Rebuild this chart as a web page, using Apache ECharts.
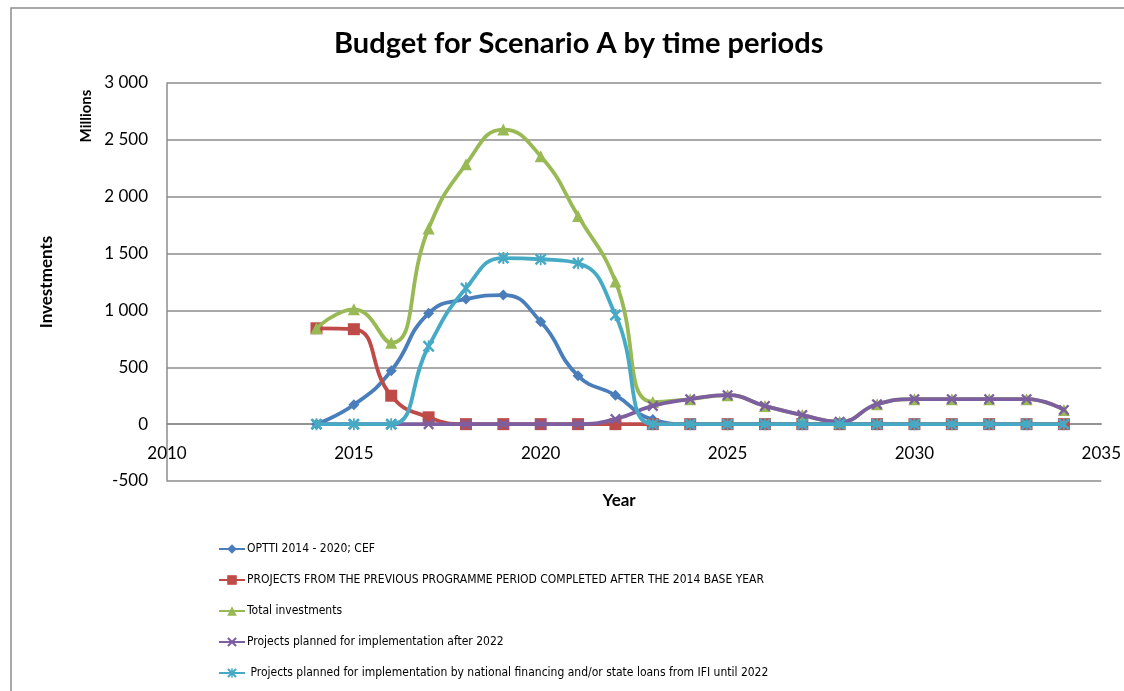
<!DOCTYPE html>
<html>
<head>
<meta charset="utf-8">
<script src="https://cdn.jsdelivr.net/npm/echarts@6/dist/echarts.min.js"></script>
<style>
  html, body { margin: 0; padding: 0; background: #fff; }
  #container { width: 1124px; height: 691px; }
</style>
</head>
<body>
<div id="container"></div>
<script>
// years on the x axis
var years = [2014, 2015, 2016, 2017, 2018, 2019, 2020, 2021, 2022, 2023, 2024,
             2025, 2026, 2027, 2028, 2029, 2030, 2031, 2032, 2033, 2034];

// values in millions
var optti    = [0, 170, 470, 975, 1100, 1135, 900, 425, 255, 40, 0, 0, 0, 0, 0, 0, 0, 0, 0, 0, 0];
var previous = [843, 835, 250, 60, 0, 0, 0, 0, 0, 0, 0, 0, 0, 0, 0, 0, 0, 0, 0, 0, 0];
var total    = [843, 1010, 715, 1720, 2285, 2590, 2355, 1830, 1255, 195, 220, 255, 160, 80, 20, 175, 220, 220, 220, 220, 125];
var after22  = [0, 0, 0, 0, 0, 0, 0, 0, 45, 160, 220, 255, 160, 80, 20, 175, 220, 220, 220, 220, 125];
var national = [0, 0, 0, 685, 1195, 1460, 1450, 1415, 960, 0, 0, 0, 0, 0, 0, 0, 0, 0, 0, 0, 0];

var names = [
    'OPTTI 2014 - 2020; CEF',
    'PROJECTS FROM THE PREVIOUS PROGRAMME PERIOD COMPLETED AFTER THE 2014 BASE YEAR',
    'Total investments',
    'Projects planned for implementation after 2022',
    ' Projects planned for implementation by national financing and/or state loans from IFI until 2022'
];
var colors = ['#4A7EBB', '#BE4B48', '#98B954', '#7D5FA0', '#46AAC5'];

var xMark = 'path://M0,3 L3,0 L10,7 L17,0 L20,3 L13,10 L20,17 L17,20 L10,13 L3,20 L0,17 L7,10 Z';
var starMark = 'path://M0,3 L3,0 L10,7 L17,0 L20,3 L13,10 L20,17 L17,20 L10,13 L3,20 L0,17 L7,10 Z M8.5,0 L11.5,0 L11.5,20 L8.5,20 Z';
var symbols = ['diamond', 'rect', 'triangle', xMark, starMark];
var sizes = [11, 12, 12, 11, 12];

function pairs(vals) {
    var out = [];
    for (var i = 0; i < years.length; i++) out.push([years[i], vals[i]]);
    return out;
}

var allData = [optti, previous, total, after22, national];
var series = [];
for (var s = 0; s < allData.length; s++) {
    series.push({
        name: names[s],
        type: 'line',
        smooth: 0.5,
        data: pairs(allData[s]),
        symbol: symbols[s],
        symbolSize: sizes[s],
        lineStyle: { color: colors[s], width: 3.8 },
        itemStyle: { color: colors[s] },
        z: 2 + s
    });
}

function fmt(v) {
    var a = Math.abs(v).toString().replace(/\B(?=(\d{3})+(?!\d))/g, ' ');
    return (v < 0 ? '-' : '') + a;
}

var chart = echarts.init(document.getElementById('container'));
chart.setOption({
    backgroundColor: '#fff',
    animation: false,
    textStyle: { fontFamily: 'Lato, "Open Sans", sans-serif', color: '#000' },
    title: {
        text: 'Budget for Scenario A by time periods',
        left: 329,
        top: 24,
        textStyle: { fontSize: 29, fontWeight: 'bold', color: '#000', fontFamily: 'Lato, sans-serif' }
    },
    grid: { left: 167, top: 83, right: 20, bottom: 210 },
    xAxis: {
        type: 'value',
        min: 2010,
        max: 2035,
        interval: 5,
        name: 'Year',
        nameLocation: 'middle',
        nameGap: 68,
        nameTextStyle: { fontSize: 17, fontWeight: 'bold', color: '#000', padding: [0, 30, 0, 0] },
        // the axis sits on the zero line: 500 units above the bottom of the grid
        offset: -57,
        axisLine: { onZero: false, lineStyle: { color: '#8c8c8c', width: 1.5 } },
        axisTick: { show: false },
        axisLabel: { fontSize: 17, color: '#000', margin: 21, formatter: function (v) { return String(v); } },
        splitLine: { show: false }
    },
    yAxis: {
        type: 'value',
        min: -500,
        max: 3000,
        interval: 500,
        name: 'Investments',
        nameLocation: 'middle',
        nameGap: 112,
        nameRotate: 90,
        nameTextStyle: { fontSize: 17, fontWeight: 'bold', color: '#000' },
        axisLine: { show: true, onZero: false, lineStyle: { color: '#8c8c8c', width: 1.5 } },
        axisTick: { show: false },
        axisLabel: { fontSize: 17, color: '#000', margin: 19, formatter: fmt },
        splitLine: { show: true, lineStyle: { color: '#8c8c8c', width: 1.5 } }
    },
    legend: {
        orient: 'vertical',
        left: 213,
        top: 537,
        itemWidth: 26,
        itemHeight: 12,
        itemGap: 17,
        textStyle: {
            fontSize: 12, lineHeight: 14, color: '#000', padding: [0, 0, 0, -3],
            fontFamily: '"DejaVu Sans Condensed", Lato, sans-serif'
        },
        data: names
    },
    graphic: [
        {
            type: 'rect',
            shape: { x: 11, y: 8, width: 1130, height: 700 },
            style: { fill: null, stroke: '#8c8c8c', lineWidth: 1.5 },
            silent: true
        },
        {
            type: 'text',
            x: 86,
            y: 116,
            rotation: Math.PI / 2,
            style: { text: 'Millions', font: 'bold 15px Lato, sans-serif', fill: '#000', align: 'center', verticalAlign: 'middle' }
        }
    ],
    series: series
});
</script>
</body>
</html>
